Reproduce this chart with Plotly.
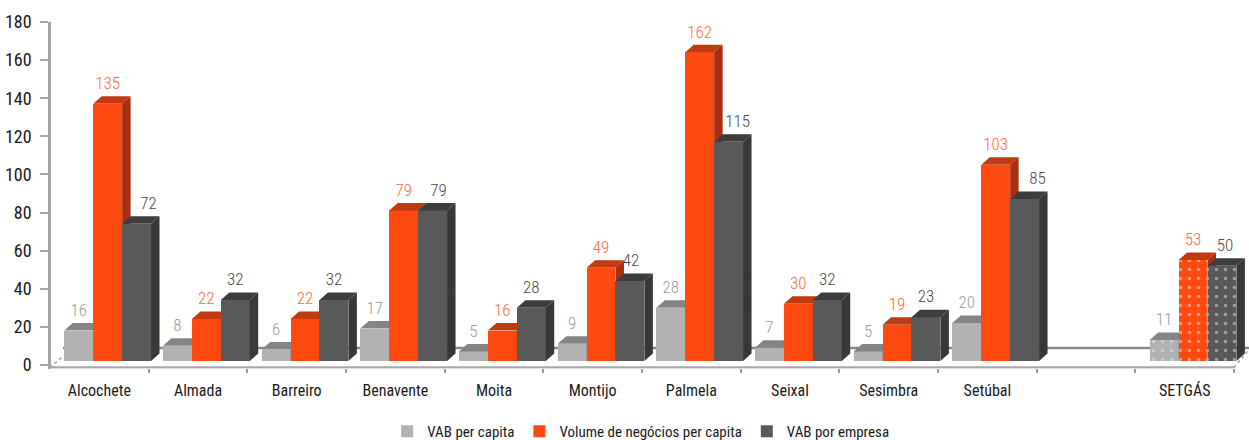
import plotly.graph_objects as go

categories = ["Alcochete", "Almada", "Barreiro", "Benavente", "Moita", "Montijo", "Palmela", "Seixal", "Sesimbra", "Setúbal", "", "SETGÁS"]
vab_capita = [16, 8, 6, 17, 5, 9, 28, 7, 5, 20, None, 11]
vol_capita = [135, 22, 22, 79, 16, 49, 162, 30, 19, 103, None, 53]
vab_empresa = [72, 32, 32, 79, 28, 42, 115, 32, 23, 85, None, 50]
y_ticks = list(range(0, 181, 20))

W, H = 1249, 440
BAND = 98.67          # px per category
PXY = 343 / 180       # px per unit
LEFT, BOTTOM, TOP = 51, 368.5, 22
EXTRA = 3.5 / PXY     # axis runs a little below the zero tick, down to the floor line
FRONT_DROP = 4 / PXY  # the bars' front plane sits in front of the axis plane
DX, DY = 8.5 / BAND, 7.5 / PXY
BAR_W = 28.9 / BAND
FONT = "Roboto Condensed"

# small label nudges (px) where the dark label dodges the taller orange bar
dark_label_shift = [12, 0, 0, 6, 0, 1, 9, 0, 0, 13, 0, 3]

series = [
    dict(name="VAB per capita", vals=vab_capita, off=-0.355, front="#b2b2b2", top="#858585", side="#858585", text="#9a9a9a", shift=[0] * 12),
    dict(name="Volume de negócios per capita", vals=vol_capita, off=-0.062, front="#fe4a10", top="#c03c10", side="#a83010", text="#ff6a3c", shift=[0] * 12),
    dict(name="VAB por empresa", vals=vab_empresa, off=0.231, front="#595959", top="#3d3d3d", side="#383838", text="#4a4a4a", shift=dark_label_shift),
]

x_lo = -0.5 + (LEFT - 50) / BAND
x_hi = x_lo + (W - LEFT) / BAND
fig = go.Figure()

# floor chrome on the axis plane
fig.add_trace(go.Scatter(x=[(63 - 50) / BAND - 0.5, x_hi], y=[8.9, 8.9], mode="lines", line=dict(color="#8a8a8a", width=2.5),
                         hoverinfo="skip", showlegend=False, cliponaxis=False))
fig.add_trace(go.Scatter(x=[-0.5, 11.5], y=[-1.3, -1.3], mode="lines", line=dict(color="#a8a8a8", width=2.5),
                         hoverinfo="skip", showlegend=False, cliponaxis=False))
fig.add_trace(go.Scatter(x=[-0.5, -0.37, None, 11.5, 11.65], y=[-1.3, 4.5, None, -1.3, 8], mode="lines",
                         line=dict(color="#a0a0a0", width=1.5, dash="dot"), hoverinfo="skip", showlegend=False, cliponaxis=False))

for n, s in enumerate(series):
    ya = f"y{n + 2}"
    xs = [i for i, v in enumerate(s["vals"]) if v is not None]
    vs = [v for v in s["vals"] if v is not None]
    tx, ty, sx, sy = [], [], [], []
    for i, v in zip(xs, vs):
        l = i + s["off"]
        r = l + BAR_W
        tx += [l, l + DX, r + DX, r, l, None]
        ty += [v, v + DY, v + DY, v, v, None]
        sx += [r, r + DX, r + DX, r, r, None]
        sy += [0, DY, v + DY, v, 0, None]
    fig.add_trace(go.Bar(x=xs, y=vs, name=s["name"], yaxis=ya, offset=s["off"], width=BAR_W,
                         marker=dict(color=s["front"], line=dict(width=0),
                                     pattern=dict(shape=["" if c != "SETGÁS" else "." for c, v in zip(categories, s["vals"]) if v is not None],
                                                  fgcolor="#e6e6e6", size=9, solidity=0.12, fillmode="overlay"))))
    fig.add_trace(go.Scatter(x=tx, y=ty, yaxis=ya, mode="lines", fill="toself", fillcolor=s["top"], line=dict(width=0),
                             hoverinfo="skip", showlegend=False))
    fig.add_trace(go.Scatter(x=sx, y=sy, yaxis=ya, mode="lines", fill="toself", fillcolor=s["side"], line=dict(width=0),
                             hoverinfo="skip", showlegend=False))
    fig.add_trace(go.Scatter(x=[i + s["off"] + BAR_W / 2 + s["shift"][i] / BAND for i in xs],
                             y=[v + DY + 3 / PXY for v in vs], yaxis=ya, mode="text", text=[str(v) for v in vs],
                             textposition="top center", textfont=dict(family=FONT, size=17, color=s["text"], weight=300),
                             hoverinfo="skip", showlegend=False, cliponaxis=False))

dom_y = [(H - BOTTOM) / H, (H - TOP) / H]
overlay = dict(overlaying="y", range=[-FRONT_DROP - EXTRA, 180 - FRONT_DROP], visible=False, fixedrange=True)
fig.update_layout(
    width=W, height=H, autosize=False, margin=dict(l=0, r=0, t=0, b=0, autoexpand=False),
    paper_bgcolor="white", plot_bgcolor="white", barmode="overlay", bargap=0,
    font=dict(family=FONT, size=15, color="#1a1a1a"),
    xaxis=dict(domain=[LEFT / W, 1], range=[x_lo, x_hi], anchor="free", position=(H - 368) / H, showgrid=False, zeroline=False, showline=False,
               tickmode="array", tickvals=list(range(len(categories))), ticktext=categories, ticks="",
               tickfont=dict(family=FONT, size=16, color="#1a1a1a", weight=400), ticklabelstandoff=11,
               minor=dict(tickmode="array", tickvals=[i - 0.5 for i in range(len(categories) + 1)], ticks="outside", ticklen=4, tickwidth=1.5, tickcolor="#999999", showgrid=False)),
    yaxis=dict(domain=dom_y, range=[-EXTRA, 180], tickmode="array", tickvals=y_ticks, showgrid=False, zeroline=False, showline=True,
               linecolor="#a6a6a6", linewidth=2.5, ticks="outside", ticklen=8, tickwidth=1.5, tickcolor="#a6a6a6",
               tickfont=dict(family=FONT, size=18, color="#1a1a1a", weight=400), ticklabelstandoff=5),
    yaxis2=overlay, yaxis3=overlay, yaxis4=overlay,
    legend=dict(orientation="h", x=0.513, xanchor="center", y=-0.018, yanchor="bottom", font=dict(family=FONT, size=15, color="#1a1a1a", weight=400), traceorder="normal", itemwidth=30),
    showlegend=True,
)
fig.write_html("out.html", post_script="document.body.style.margin='0';", config=dict(displayModeBar=False))
